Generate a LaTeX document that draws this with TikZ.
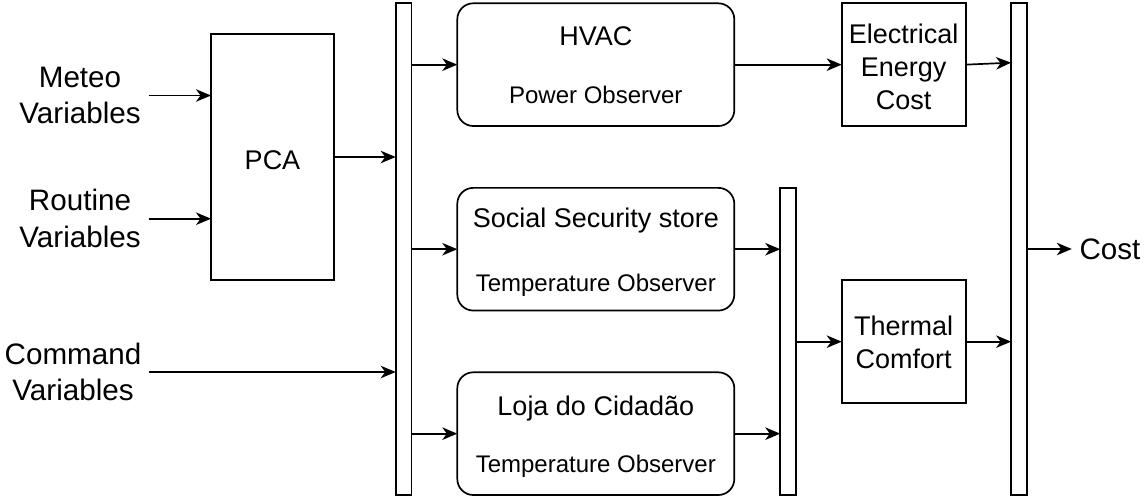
\documentclass[tikz,border=0pt]{standalone}
\usepackage{fontspec}
\setmainfont{Liberation Sans}
\usetikzlibrary{arrows.meta,calc}

\tikzset{
  box/.style={draw, line width=1.7pt, inner sep=0pt, outer sep=0pt},
  obsbox/.style={box, rounded corners=16pt, minimum width=277pt, minimum height=122.7pt},
  blockbox/.style={box, minimum width=124pt, minimum height=122.7pt},
  busbar/.style={box, minimum width=15.8pt},
  arr/.style={line width=1.7pt, -{Stealth[length=15pt, width=12.5pt, inset=4.5pt]}},
  outer/.style={font=\fontsize{29.6}{36.7}\selectfont, align=center, inner sep=0pt},
  main/.style={font=\fontsize{27}{32.7}\selectfont, align=center, inner sep=0pt},
  sub/.style={font=\fontsize{24}{28}\selectfont, inner sep=0pt},
}

\begin{document}
\begin{tikzpicture}[x=1pt, y=-1pt]
\useasboundingbox (0,0) rectangle (1145,496);

% input labels
\node[outer] (meteo) at (80,95.5) {Meteo\\Variables};
\node[outer] (routine) at (80,218.7) {Routine\\Variables};
\node[outer] (command) at (73,372) {Command\\Variables};

% PCA block
\node[box, minimum width=123pt, minimum height=246pt] (pca) at (272.5,157) {};
\node[main, anchor=base] (pcatext) at (272.5,169.3) {PCA};

% bus bars
\node[busbar, minimum height=491.7pt] (bar1) at (403.6,249.15) {};
\node[busbar, minimum height=307.3pt] (bar2) at (788.15,341.35) {};
\node[busbar, minimum height=491.7pt] (bar3) at (1019,249.15) {};

% observers
\node[obsbox] (hvac) at (595.8,64.65) {};
\node[main, anchor=base] (hvactitle) at (595.8,45.7) {HVAC};
\node[sub, anchor=base] (hvacobs) at (595.8,103.3) {Power Observer};

\node[obsbox] (social) at (595.8,249.2) {};
\node[main, anchor=base] (socialtitle) at (595.8,227.8) {Social Security store};
\node[sub, anchor=base] (socialobs) at (595.8,291.5) {Temperature Observer};

\node[obsbox] (loja) at (595.8,433.65) {};
\node[main, anchor=base] (lojatitle) at (595.8,415) {Loja do Cidadão};
\node[sub, anchor=base] (lojaobs) at (595.8,472.7) {Temperature Observer};

% cost blocks
\node[blockbox] (elec) at (903.7,64.65) {};
\node[main] (electext) at (903.7,67) {Electrical\\Energy\\Cost};
\node[blockbox, minimum height=123.3pt] (therm) at (903.7,341.65) {};
\node[main] (thermtext) at (903.7,342.5) {Thermal\\Comfort};

% output label
\node[outer, anchor=west] (cost) at (1079.3,249) {Cost};

% connections
\draw[arr] ([xshift=8pt]meteo.east) -- (pca.west |- meteo.east);
\draw[arr] ([xshift=8pt]routine.east) -- (pca.west |- routine.east);
\draw[arr] ([xshift=8pt]command.east) -- (bar1.west |- command.east);
\draw[arr] (pca.east) -- (bar1.west |- pca.east);

\draw[arr] (bar1.east |- hvac.west) -- (hvac.west);
\draw[arr] (bar1.east |- social.west) -- (social.west);
\draw[arr] (bar1.east |- loja.west) -- (loja.west);

\draw[arr] (hvac.east) -- (elec.west);
\draw[arr] (social.east) -- (bar2.west |- social.east);
\draw[arr] (loja.east) -- (bar2.west |- loja.east);
\draw[arr] (bar2.east |- therm.west) -- (therm.west);

\draw[arr] (elec.east) -- ([yshift=2pt]bar3.west |- elec.east);
\draw[arr] (therm.east) -- (bar3.west |- therm.east);
\draw[arr] (bar3.east |- cost.west) -- ([xshift=-7.5pt]cost.west);
\end{tikzpicture}
\end{document}
